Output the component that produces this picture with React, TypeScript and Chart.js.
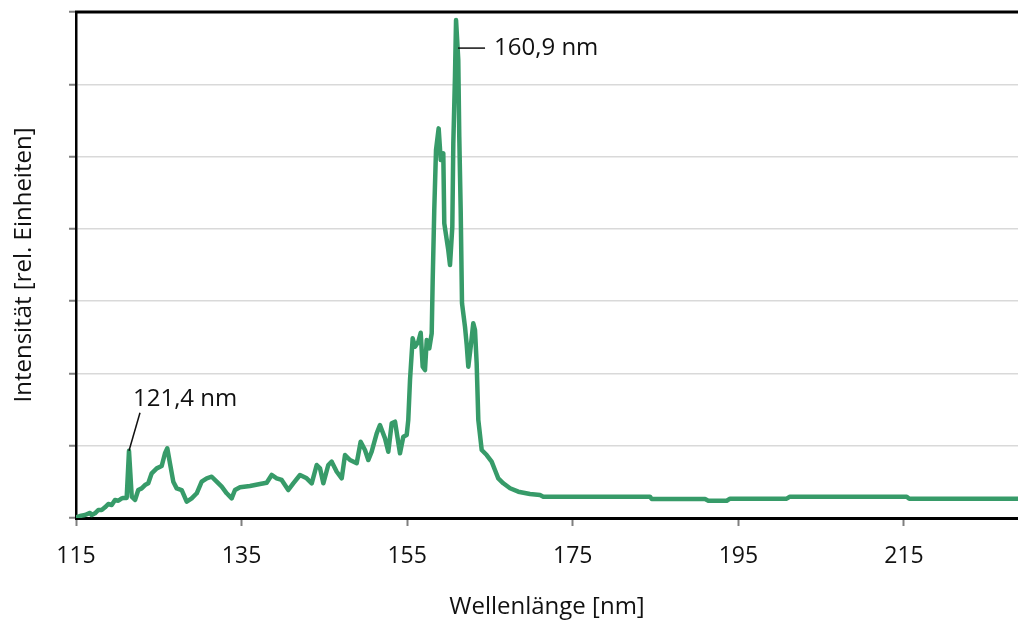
import React, { useEffect, useRef } from "react";
import { Chart, registerables } from "chart.js";

Chart.register(...registerables);

// Wavelength (nm) and relative intensity (grid units)
const wavelengths: number[] = [
  115.0, 115.08, 115.48, 116.09, 116.69, 116.9, 117.29, 117.69, 118.1, 118.5, 118.9,
  119.31, 119.71, 120.11, 120.52, 120.71, 121.12, 121.4, 121.73,
  122.13, 122.52, 122.93, 123.33, 123.73, 124.14, 124.75, 125.35, 125.75, 126.03,
  126.35, 126.75, 127.16, 127.77, 128.37, 128.97, 129.58, 130.18, 130.79, 131.39,
  131.99, 132.6, 133.2, 133.8, 134.2, 134.81, 136.01, 137.22, 138.03, 138.63,
  139.24, 139.84, 140.64, 141.24, 142.05, 142.86, 143.47, 144.07, 144.47, 144.87,
  145.47, 145.88, 146.49, 147.09, 147.49, 148.09, 148.9, 149.38, 149.9, 150.3,
  150.71, 151.32, 151.71, 152.32, 152.72, 153.13, 153.53, 154.13, 154.53, 154.94,
  155.13, 155.34, 155.66, 155.94, 156.34, 156.63, 156.87, 157.15, 157.36, 157.67,
  157.96, 158.08, 158.27, 158.48, 158.8, 159.05, 159.36, 159.48, 159.96, 160.17,
  160.45, 160.57, 160.77, 160.9, 161.17, 161.29, 161.46, 161.62, 161.98, 162.19,
  162.38, 162.67, 162.98, 163.19, 163.39, 163.59, 164.0, 164.6, 165.2, 165.6,
  166.0, 166.61, 167.42, 168.42, 169.83, 171.04, 171.44, 184.32, 184.53, 190.97,
  191.37, 193.59, 193.99, 200.83, 201.23, 215.33, 215.64, 228.77,
];

const intensities: number[] = [
  0.0, 0.01, 0.028, 0.041, 0.07, 0.041, 0.065, 0.111, 0.111, 0.148, 0.194,
  0.18, 0.249, 0.239, 0.272, 0.277, 0.277, 0.93, 0.295,
  0.249, 0.387, 0.41, 0.456, 0.48, 0.618, 0.687, 0.719, 0.895, 0.964,
  0.757, 0.502, 0.41, 0.387, 0.225, 0.272, 0.342, 0.502, 0.549, 0.571,
  0.502, 0.433, 0.342, 0.272, 0.387, 0.425, 0.443, 0.47, 0.488, 0.595,
  0.549, 0.526, 0.387, 0.48, 0.595, 0.549, 0.48, 0.733, 0.687, 0.48,
  0.733, 0.779, 0.64, 0.549, 0.871, 0.802, 0.757, 1.055, 0.94, 0.802,
  0.917, 1.171, 1.286, 1.102, 0.917, 1.31, 1.332, 0.895, 1.124, 1.148,
  1.355, 1.909, 2.485, 2.369, 2.438, 2.563, 2.093, 2.047, 2.462, 2.347,
  2.555, 3.292, 4.26, 5.09, 5.39, 4.951, 5.044, 4.076, 3.707, 3.499,
  4.029, 5.183, 6.104, 6.888, 6.335, 5.274, 4.26, 2.97, 2.646, 2.393,
  2.093, 2.369, 2.693, 2.6, 2.14, 1.355, 0.941, 0.871, 0.779, 0.664,
  0.549, 0.48, 0.411, 0.364, 0.332, 0.318, 0.295, 0.295, 0.263, 0.263,
  0.239, 0.239, 0.267, 0.267, 0.295, 0.295, 0.267, 0.267,
];

const xTickValues: number[] = [115, 135, 155, 175, 195, 215];
const xMin = 115;
const xMax = 228.77;
const yMax = 7;

const peakLabels: { x: number; y: number; text: string }[] = [
  { x: 121.4, y: 0.93, text: "121,4 nm" },
  { x: 160.9, y: 6.888, text: "160,9 nm" },
];

const FONT = "'Open Sans', 'Noto Sans', sans-serif";

export default function App() {
  const canvasRef = useRef<HTMLCanvasElement | null>(null);

  useEffect(() => {
    document.body.style.margin = "0";
    const canvas = canvasRef.current;
    if (!canvas) return;

    const extras = {
      id: "extras",
      beforeDatasetsDraw(chart: any) {
        const { ctx, chartArea } = chart;
        ctx.save();
        ctx.strokeStyle = "#000";
        ctx.lineWidth = 3;
        ctx.beginPath();
        ctx.moveTo(chartArea.left - 1, chartArea.top);
        ctx.lineTo(chartArea.right, chartArea.top);
        ctx.stroke();
        ctx.restore();
      },
      afterDatasetsDraw(chart: any) {
        const { ctx } = chart;
        const xs = chart.scales.x;
        const ys = chart.scales.y;
        ctx.save();
        ctx.strokeStyle = "#111";
        ctx.lineWidth = 1.5;
        ctx.fillStyle = "#111";
        ctx.font = `24px ${FONT}`;
        ctx.textBaseline = "middle";
        ctx.textAlign = "left";
        {
          const p = peakLabels[0];
          const px = xs.getPixelForValue(p.x);
          const py = ys.getPixelForValue(p.y);
          ctx.beginPath();
          ctx.moveTo(px, py);
          ctx.lineTo(px + 11, py - 38);
          ctx.stroke();
          ctx.fillText(p.text, px + 4, py - 52);
        }
        {
          const p = peakLabels[1];
          const px = xs.getPixelForValue(p.x);
          const py = ys.getPixelForValue(p.y);
          ctx.beginPath();
          ctx.moveTo(px + 2, py + 28);
          ctx.lineTo(px + 29, py + 28);
          ctx.stroke();
          ctx.fillText(p.text, px + 38, py + 28);
        }
        ctx.restore();
      },
    };

    const chart = new Chart(canvas, {
      type: "line",
      data: {
        datasets: [
          {
            data: wavelengths.map((x, i) => ({ x, y: intensities[i] })),
            borderColor: "#379b69",
            borderWidth: 4.5,
            pointRadius: 0,
            tension: 0,
            fill: false,
            borderJoinStyle: "round",
            borderCapStyle: "round",
          },
        ],
      },
      options: {
        animation: false,
        responsive: false,
        maintainAspectRatio: false,
        layout: { padding: { top: 12, right: 0, left: 0, bottom: 0 } },
        plugins: {
          legend: { display: false },
          tooltip: { enabled: false },
        },
        scales: {
          x: {
            type: "linear",
            min: xMin,
            max: xMax,
            afterBuildTicks: (scale: any) => {
              scale.ticks = xTickValues.map((v) => ({ value: v }));
            },
            afterFit: (scale: any) => {
              scale.height = 105;
            },
            grid: {
              drawOnChartArea: false,
              drawTicks: true,
              tickLength: 8,
              tickColor: "#7f7f7f",
              tickWidth: 2,
            },
            border: { color: "#000", width: 3 },
            ticks: {
              color: "#111",
              font: { family: FONT, size: 23 },
              padding: 17,
              maxRotation: 0,
              autoSkip: false,
              callback: (v: any) => String(v),
            },
            title: {
              display: true,
              text: "Wellenlänge [nm]",
              color: "#111",
              font: { family: FONT, size: 24 },
              padding: { top: 0, bottom: 1 },
            },
          },
          y: {
            type: "linear",
            min: 0,
            max: yMax,
            afterFit: (scale: any) => {
              scale.width = 76;
            },
            ticks: { display: false, stepSize: 1 },
            grid: {
              color: "#d9d9d9",
              lineWidth: 1.5,
              drawTicks: true,
              tickLength: 7,
              tickColor: "#7f7f7f",
              tickWidth: 2,
            },
            border: { color: "#000", width: 2.5 },
            title: {
              display: true,
              text: "Intensität [rel. Einheiten]",
              color: "#111",
              font: { family: FONT, size: 24 },
              padding: { top: 10, bottom: 0 },
            },
          },
        },
      },
      plugins: [extras],
    } as any);

    return () => {
      chart.destroy();
    };
  }, []);

  return (
    <div style={{ width: 1018, height: 623, background: "#fff" }}>
      <canvas ref={canvasRef} width={1018} height={623} style={{ display: "block" }} />
    </div>
  );
}
